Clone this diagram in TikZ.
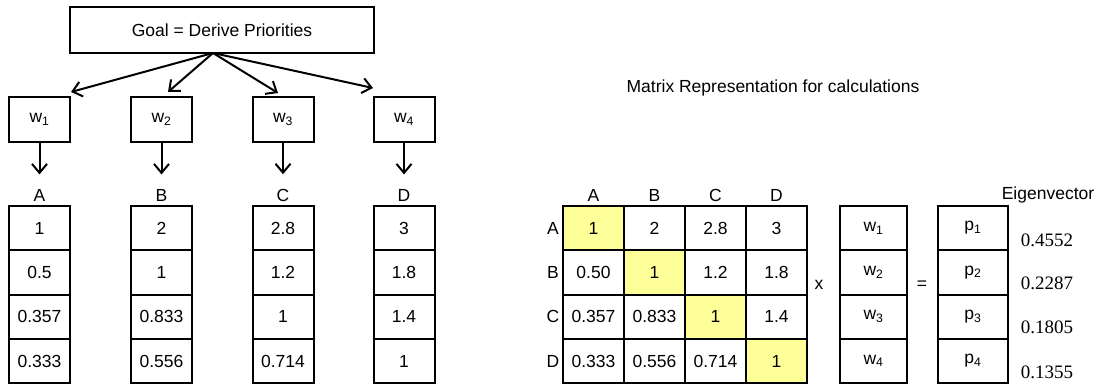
\documentclass[tikz,border=0pt]{standalone}
\usepackage{fontspec}
\setmainfont{Liberation Sans}
\newfontfamily\valfont{Liberation Serif}
\usepackage{tikz}
\usetikzlibrary{arrows.meta}

\definecolor{diag}{HTML}{FFFF99}

\tikzset{
  box/.style={draw, line width=2pt, inner sep=0pt},
  cell/.style={box, minimum width=61pt, minimum height=44.3pt},
  arr/.style={-{Straight Barb[length=9pt, width=15pt]}, line width=2pt},
}

\begin{document}
\begin{tikzpicture}[x=1pt, y=-1pt, every node/.style={font=\fontsize{17.5}{20}\selectfont}]
  \useasboundingbox (0,0) rectangle (1097,385);

  % Goal
  \node[box, minimum width=304pt, minimum height=46pt] (goal) at (222,30) {Goal = Derive Priorities};

  % Weights
  \node[cell, minimum height=45pt] (w1) at (39.5,119.5) {w\textsubscript{1}};
  \node[cell, minimum height=45pt] (w2) at (161.5,119.5) {w\textsubscript{2}};
  \node[cell, minimum height=45pt] (w3) at (283,119.5) {w\textsubscript{3}};
  \node[cell, minimum height=45pt] (w4) at (404,119.5) {w\textsubscript{4}};

  % Goal to weights
  \coordinate (root) at (213,53);
  \coordinate (t1) at (71,92);
  \coordinate (t2) at (168,92);
  \coordinate (t3) at (278,93);
  \coordinate (t4) at (373,88);
  \draw[arr] (root) -- (t1);
  \draw[arr] (root) -- (t2);
  \draw[arr] (root) -- (t3);
  \draw[arr] (root) -- (t4);

  % Column labels
  \node (hA) at (39.5,195) {A};
  \node (hB) at (161.5,195) {B};
  \node (hC) at (283,195) {C};
  \node (hD) at (404,195) {D};
  \draw[arr, shorten >=11pt] (w1) -- (hA);
  \draw[arr, shorten >=11pt] (w2) -- (hB);
  \draw[arr, shorten >=11pt] (w3) -- (hC);
  \draw[arr, shorten >=11pt] (w4) -- (hD);

  % Columns
  \node[cell] (a1) at (39.5,228.1) {1};
  \node[cell] (a2) at (39.5,272.4) {0.5};
  \node[cell] (a3) at (39.5,316.7) {0.357};
  \node[cell] (a4) at (39.5,361) {0.333};
  \node[cell] (b1) at (161.5,228.1) {2};
  \node[cell] (b2) at (161.5,272.4) {1};
  \node[cell] (b3) at (161.5,316.7) {0.833};
  \node[cell] (b4) at (161.5,361) {0.556};
  \node[cell] (c1) at (283,228.1) {2.8};
  \node[cell] (c2) at (283,272.4) {1.2};
  \node[cell] (c3) at (283,316.7) {1};
  \node[cell] (c4) at (283,361) {0.714};
  \node[cell] (d1) at (404,228.1) {3};
  \node[cell] (d2) at (404,272.4) {1.8};
  \node[cell] (d3) at (404,316.7) {1.4};
  \node[cell] (d4) at (404,361) {1};

  % Matrix
  \node (title) at (773,88) {Matrix Representation for calculations};
  \node (mhA) at (593.5,195) {A};
  \node (mhB) at (654.5,195) {B};
  \node (mhC) at (715.5,195) {C};
  \node (mhD) at (776.5,195) {D};
  \node (mrA) at (553,228.1) {A};
  \node (mrB) at (553,272.4) {B};
  \node (mrC) at (553,316.7) {C};
  \node (mrD) at (553,361) {D};
  \node[cell, fill=diag] (m11) at (593.5,228.1) {1};
  \node[cell] (m12) at (654.5,228.1) {2};
  \node[cell] (m13) at (715.5,228.1) {2.8};
  \node[cell] (m14) at (776.5,228.1) {3};
  \node[cell] (m21) at (593.5,272.4) {0.50};
  \node[cell, fill=diag] (m22) at (654.5,272.4) {1};
  \node[cell] (m23) at (715.5,272.4) {1.2};
  \node[cell] (m24) at (776.5,272.4) {1.8};
  \node[cell] (m31) at (593.5,316.7) {0.357};
  \node[cell] (m32) at (654.5,316.7) {0.833};
  \node[cell, fill=diag] (m33) at (715.5,316.7) {1};
  \node[cell] (m34) at (776.5,316.7) {1.4};
  \node[cell] (m41) at (593.5,361) {0.333};
  \node[cell] (m42) at (654.5,361) {0.556};
  \node[cell] (m43) at (715.5,361) {0.714};
  \node[cell, fill=diag] (m44) at (776.5,361) {1};
  \node (times) at (819,285) {x};

  % Weight vector
  \node[cell, minimum width=67pt] (v1) at (873.5,228.1) {w\textsubscript{1}};
  \node[cell, minimum width=67pt] (v2) at (873.5,272.4) {w\textsubscript{2}};
  \node[cell, minimum width=67pt] (v3) at (873.5,316.7) {w\textsubscript{3}};
  \node[cell, minimum width=67pt] (v4) at (873.5,361) {w\textsubscript{4}};
  \node (eq) at (922,285) {=};

  % Priority vector
  \node[cell, minimum width=70pt] (p1) at (973,228.1) {p\textsubscript{1}};
  \node[cell, minimum width=70pt] (p2) at (973,272.4) {p\textsubscript{2}};
  \node[cell, minimum width=70pt] (p3) at (973,316.7) {p\textsubscript{3}};
  \node[cell, minimum width=70pt] (p4) at (973,361) {p\textsubscript{4}};

  % Eigenvector
  \node[font=\valfont\fontsize{19}{22}\selectfont] (e1) at (1047,240) {0.4552};
  \node[font=\valfont\fontsize{19}{22}\selectfont] (e2) at (1047,283) {0.2287};
  \node[font=\valfont\fontsize{19}{22}\selectfont] (e3) at (1047,327) {0.1805};
  \node[font=\valfont\fontsize{19}{22}\selectfont] (e4) at (1047,372) {0.1355};
  \node (eig) at (1048,195) {Eigenvector};
\end{tikzpicture}
\end{document}
